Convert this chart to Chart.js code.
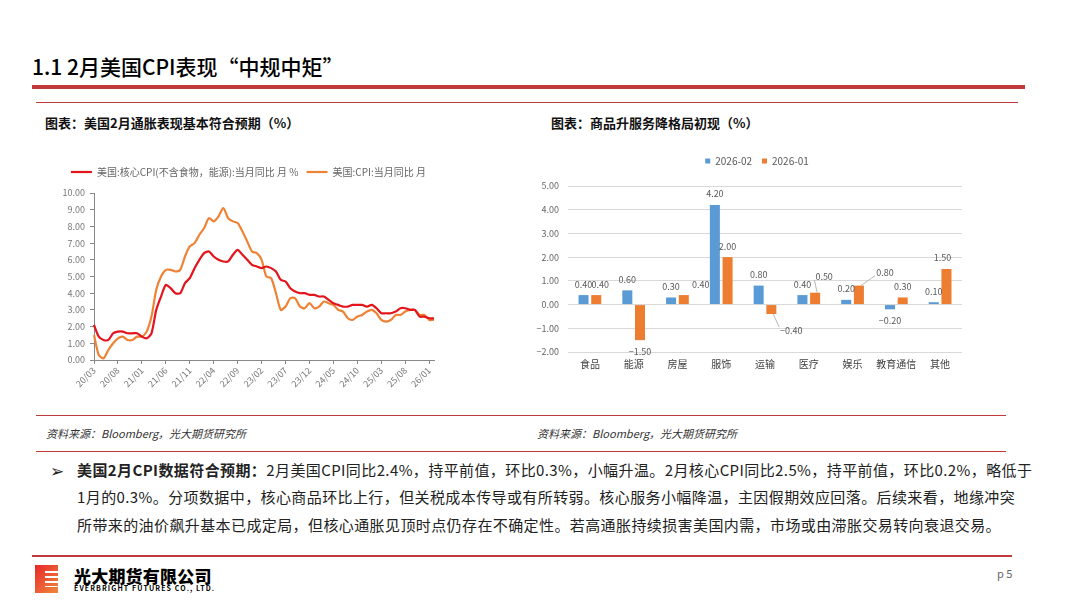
<!DOCTYPE html>
<html>
<head>
<meta charset="utf-8">
<script src="https://cdn.jsdelivr.net/npm/chart.js@4.4.1/dist/chart.umd.min.js"></script>
<style>
    body {
        margin: 0;
        width: 1067px;
        height: 600px;
        position: relative;
        background: #fff;
        font-family: "Noto Sans CJK SC", "Noto Sans", sans-serif;
        overflow: hidden;
    }
    .abs { position: absolute; white-space: nowrap; }
    .rule { position: absolute; background: #c0393b; }
    .chart-title { font-size: 13px; font-weight: 700; color: #111; }
    .source { font-size: 11px; font-style: italic; color: #333; }
    .body-line { font-size: 15px; color: #222; letter-spacing: 0.4px; }
</style>
</head>
<body>

<div class="abs" style="left:32px; top:51px; font-size:21px; font-weight:500; color:#000;">1.1 2月美国CPI表现“中规中矩”</div>
<div class="rule" style="left:32px; top:85px; width:993px; height:4px;"></div>
<div class="rule" style="left:36px; top:102px; width:982px; height:1px;"></div>

<div class="abs chart-title" style="left:45px; top:113px;">图表：美国2月通胀表现基本符合预期（%）</div>
<div class="abs chart-title" style="left:551px; top:113px;">图表：商品升服务降格局初现（%）</div>

<div style="position:absolute; left:30px; top:150px; width:450px; height:245px;">
    <canvas id="cpiChart"></canvas>
</div>
<div style="position:absolute; left:530px; top:135px; width:454px; height:247px;">
    <canvas id="itemChart"></canvas>
</div>

<div class="rule" style="left:36px; top:415px; width:970px; height:1px;"></div>
<div class="abs source" style="left:46px; top:425px;">资料来源：Bloomberg，光大期货研究所</div>
<div class="abs source" style="left:537px; top:425px;">资料来源：Bloomberg，光大期货研究所</div>
<div class="rule" style="left:36px; top:451px; width:970px; height:1px;"></div>

<div class="abs" style="left:50px; top:457px; font-size:17px; color:#222;">➢</div>
<div class="abs body-line" style="left:77px; top:459px;"><b>美国2月CPI数据符合预期：</b>2月美国CPI同比2.4%，持平前值，环比0.3%，小幅升温。2月核心CPI同比2.5%，持平前值，环比0.2%，略低于</div>
<div class="abs body-line" style="left:77px; top:486px;">1月的0.3%。分项数据中，核心商品环比上行，但关税成本传导或有所转弱。核心服务小幅降温，主因假期效应回落。后续来看，地缘冲突</div>
<div class="abs body-line" style="left:77px; top:514px;">所带来的油价飙升基本已成定局，但核心通胀见顶时点仍存在不确定性。若高通胀持续损害美国内需，市场或由滞胀交易转向衰退交易。</div>

<div class="rule" style="left:32px; top:555px; width:980px; height:2px;"></div>

<div style="position:absolute; left:35px; top:565px; width:23px; height:28px; background:linear-gradient(135deg,#e8262b,#f08a3c);"></div>
<div style="position:absolute; left:45px; top:571px; width:13px; height:16px; background:repeating-linear-gradient(#fff 0 2px, transparent 2px 5px);"></div>
<div class="abs" style="left:74px; top:563px; font-size:17px; font-weight:900; color:#000; letter-spacing:0.2px;">光大期货有限公司</div>
<div class="abs" style="left:74px; top:583px; font-size:7px; font-weight:700; color:#000; letter-spacing:1.1px;">EVERBRIGHT FUTURES CO., LTD.</div>
<div class="abs" style="left:997px; top:565px; font-size:11px; color:#666;">p 5</div>

<script>
// ----------------------------------
// LEFT CHART DATA (2020/03 - 2026/02)
// ----------------------------------
const monthLabels = [
    "20/03","20/04","20/05","20/06","20/07","20/08","20/09","20/10","20/11","20/12",
    "21/01","21/02","21/03","21/04","21/05","21/06","21/07","21/08","21/09","21/10","21/11","21/12",
    "22/01","22/02","22/03","22/04","22/05","22/06","22/07","22/08","22/09","22/10","22/11","22/12",
    "23/01","23/02","23/03","23/04","23/05","23/06","23/07","23/08","23/09","23/10","23/11","23/12",
    "24/01","24/02","24/03","24/04","24/05","24/06","24/07","24/08","24/09","24/10","24/11","24/12",
    "25/01","25/02","25/03","25/04","25/05","25/06","25/07","25/08","25/09","25/10","25/11","25/12",
    "26/01","26/02"
];

const coreCpi = [
    2.1, 1.4, 1.2, 1.2, 1.6, 1.7, 1.7, 1.6, 1.6, 1.6,
    1.4, 1.3, 1.6, 3.0, 3.8, 4.5, 4.3, 4.0, 4.0, 4.6, 4.9, 5.5,
    6.0, 6.4, 6.5, 6.2, 6.0, 5.9, 5.9, 6.3, 6.6, 6.3, 6.0, 5.7,
    5.6, 5.5, 5.6, 5.5, 5.3, 4.8, 4.7, 4.3, 4.1, 4.0, 4.0, 3.9,
    3.9, 3.8, 3.8, 3.6, 3.4, 3.3, 3.2, 3.2, 3.3, 3.3, 3.3, 3.2,
    3.3, 3.1, 2.8, 2.8, 2.8, 2.9, 3.1, 3.1, 3.0, 3.0, 2.6, 2.6,
    2.5, 2.5
];

const headlineCpi = [
    1.5, 0.3, 0.1, 0.6, 1.0, 1.3, 1.4, 1.2, 1.2, 1.4,
    1.4, 1.7, 2.6, 4.2, 5.0, 5.4, 5.4, 5.3, 5.4, 6.2, 6.8, 7.0,
    7.5, 7.9, 8.5, 8.3, 8.6, 9.1, 8.5, 8.3, 8.2, 7.7, 7.1, 6.5,
    6.4, 6.0, 5.0, 4.9, 4.0, 3.0, 3.2, 3.7, 3.7, 3.2, 3.1, 3.4,
    3.1, 3.2, 3.5, 3.4, 3.3, 3.0, 2.9, 2.5, 2.4, 2.6, 2.7, 2.9,
    3.0, 2.8, 2.4, 2.3, 2.4, 2.7, 2.7, 2.9, 3.0, 3.0, 2.7, 2.7,
    2.4, 2.4
];

// ----------------------------------
// RIGHT CHART DATA
// ----------------------------------
const itemCategories = ["食品","能源","房屋","服饰","运输","医疗","娱乐","教育通信","其他"];
const febValues = [0.4, 0.6, 0.3, 4.2, 0.8, 0.4, 0.2, -0.2, 0.1];
const janValues = [0.4, -1.5, 0.4, 2.0, -0.4, 0.5, 0.8, 0.3, 1.5];

const FONT = "'Noto Sans CJK SC', 'Noto Sans', sans-serif";
const fmt = (v) => (v < 0 ? "\u2212" : "") + Math.abs(v).toFixed(2);

// extra room under the legend, before the plot starts
const legendGap = {
    id: "legendGap",
    beforeLayout(chart, args, opts) {
        const lg = chart.legend;
        if (lg && !lg._gapPatched) {
            const fit = lg.fit;
            lg.fit = function () {
                fit.call(this);
                this.height += opts.extra || 0;
            };
            lg._gapPatched = true;
        }
    }
};

// ----------------------------------
// LEFT: CPI LINES
// ----------------------------------
new Chart(document.getElementById("cpiChart"), {
    type: "line",
    data: {
        labels: monthLabels,
        datasets: [{
            label: "美国:核心CPI(不含食物，能源):当月同比 月 %",
            data: coreCpi,
            borderColor: "#e3141b",
            backgroundColor: "#e3141b",
            borderWidth: 2.2,
            pointRadius: 0,
            tension: 0.25
        }, {
            label: "美国:CPI:当月同比 月",
            data: headlineCpi,
            borderColor: "#ee8235",
            backgroundColor: "#ee8235",
            borderWidth: 2.2,
            pointRadius: 0,
            tension: 0.25
        }]
    },
    plugins: [legendGap],
    options: {
        responsive: true,
        maintainAspectRatio: false,
        animation: false,
        events: [],
        layout: { padding: { top: 9, right: 46, left: 0, bottom: 0 } },
        plugins: {
            tooltip: { enabled: false },
            legendGap: { extra: 6 },
            legend: {
                position: "top",
                align: "end",
                labels: {
                    usePointStyle: true,
                    pointStyle: "line",
                    pointStyleWidth: 21,
                    padding: 8,
                    color: "#666",
                    font: { family: FONT, size: 10 }
                }
            }
        },
        scales: {
            x: {
                offset: false,
                border: { display: true, color: "#888" },
                grid: {
                    drawOnChartArea: false,
                    drawTicks: true,
                    tickLength: 4,
                    color: (ctx) => ctx.index % 5 === 0 ? "#888" : "rgba(0,0,0,0)"
                },
                ticks: {
                    autoSkip: false,
                    maxRotation: 45,
                    minRotation: 45,
                    padding: 1,
                    color: "#777",
                    font: { family: FONT, size: 9 },
                    callback: function (val, i) {
                        return i % 5 === 0 ? this.getLabelForValue(val) : "";
                    }
                },
                afterFit: (s) => { s.height = 35; }
            },
            y: {
                min: 0,
                max: 10,
                border: { display: true, color: "#888" },
                grid: {
                    drawOnChartArea: false,
                    drawTicks: true,
                    tickLength: 4,
                    color: "#888"
                },
                ticks: {
                    stepSize: 1,
                    padding: 5,
                    color: "#777",
                    font: { family: FONT, size: 9 },
                    callback: (v) => v.toFixed(2)
                },
                afterFit: (s) => { s.width = 64; }
            }
        }
    }
});

// ----------------------------------
// RIGHT: BAR LABELS
// ----------------------------------
const labelShift = {
    "1-0": [4, 0],
    "1-2": [17, 0],
    "1-4": [20, 6],
    "1-5": [9, -5],
    "1-6": [26, -2],
    "1-8": [-4, 0]
};
const leaderLines = ["1-4", "1-5", "1-6"];

const barLabels = {
    id: "barLabels",
    afterDatasetsDraw(chart) {
        const ctx = chart.ctx;
        ctx.save();
        ctx.font = "9px " + FONT;
        ctx.fillStyle = "#595959";
        ctx.textAlign = "center";
        ctx.textBaseline = "middle";
        chart.data.datasets.forEach((ds, di) => {
            const meta = chart.getDatasetMeta(di);
            meta.data.forEach((bar, i) => {
                const v = ds.data[i];
                const key = di + "-" + i;
                const shift = labelShift[key] || [0, 0];
                const lx = bar.x + shift[0];
                const ly = (v >= 0 ? bar.y - 11 : bar.y + 11) + shift[1];
                const text = fmt(v);
                if (leaderLines.includes(key)) {
                    const w = ctx.measureText(text).width;
                    ctx.strokeStyle = "#a6a6a6";
                    ctx.lineWidth = 0.8;
                    ctx.beginPath();
                    ctx.moveTo(bar.x + 2, bar.y);
                    ctx.lineTo(lx - w / 2 - 1, v >= 0 ? ly + 3 : ly - 4);
                    ctx.stroke();
                }
                ctx.fillText(text, lx, ly);
            });
        });
        ctx.restore();
    }
};

new Chart(document.getElementById("itemChart"), {
    type: "bar",
    data: {
        labels: itemCategories,
        datasets: [{
            label: "2026-02",
            data: febValues,
            backgroundColor: "#5b9bd5",
            barPercentage: 0.79,
            categoryPercentage: 0.58
        }, {
            label: "2026-01",
            data: janValues,
            backgroundColor: "#ed7d31",
            barPercentage: 0.79,
            categoryPercentage: 0.58
        }]
    },
    plugins: [barLabels, legendGap],
    options: {
        responsive: true,
        maintainAspectRatio: false,
        animation: false,
        events: [],
        layout: { padding: { top: 11, right: 0, left: 0, bottom: 0 } },
        plugins: {
            tooltip: { enabled: false },
            legendGap: { extra: 10 },
            legend: {
                position: "top",
                labels: {
                    boxWidth: 5,
                    boxHeight: 5,
                    padding: 10,
                    color: "#595959",
                    font: { family: FONT, size: 10 }
                }
            }
        },
        scales: {
            x: {
                border: { display: false },
                grid: { display: false, drawTicks: false },
                ticks: {
                    autoSkip: false,
                    maxRotation: 0,
                    minRotation: 0,
                    padding: 6,
                    color: "#404040",
                    font: { family: FONT, size: 10 }
                },
                afterFit: (s) => { s.height = 30; }
            },
            y: {
                min: -2,
                max: 5,
                border: { display: false },
                grid: {
                    drawTicks: false,
                    color: "#d9d9d9",
                    lineWidth: 1
                },
                ticks: {
                    stepSize: 1,
                    padding: 9,
                    color: "#666",
                    font: { family: FONT, size: 9 },
                    callback: (v) => fmt(v)
                },
                afterFit: (s) => { s.width = 38; }
            },
            // empty right-hand strip so the plot ends short of the legend box
            yRight: {
                position: "right",
                display: true,
                border: { display: false },
                grid: { display: false, drawTicks: false },
                ticks: { display: false },
                afterFit: (s) => { s.width = 22; }
            }
        }
    }
});
</script>
</body>
</html>
